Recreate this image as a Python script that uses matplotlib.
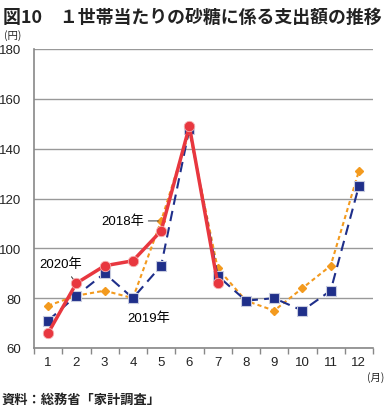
import matplotlib
matplotlib.use('Agg')
import matplotlib.pyplot as plt
import numpy as np

plt.rcParams['font.family'] = ['Liberation Sans', 'Noto Sans CJK JP', 'DejaVu Sans']
jp = ['Noto Sans CJK JP', 'DejaVu Sans']

# data
months = ['1', '2', '3', '4', '5', '6', '7', '8', '9', '10', '11', '12']
y2018 = [77, 81, 83, 80, 111, 147, 92, 79, 75, 84, 93, 131]
y2019 = [71, 81, 90, 80, 93, 148, 89, 79, 80, 75, 83, 125]
y2020 = [66, 86, 93, 95, 107, 149, 86]
yticks = [60, 80, 100, 120, 140, 160, 180]

fig = plt.figure(figsize=(3.86, 4.06), dpi=100)
ax = fig.add_axes([34/386, (406-349)/406, (373-34)/386, (349-50)/406])

x = np.arange(len(months))
ax.plot(x, y2018, color='#f39a1e', lw=1.5, ls=(0, (2, 1.5)), marker='D', markersize=4.5,
        markeredgecolor='#f39a1e', zorder=3)
ax.plot(x, y2019, color='#1f2f8a', lw=1.5, ls=(0, (5, 3)), marker='s', markersize=7.5,
        markeredgecolor='#c8cce0', markeredgewidth=0.8, zorder=4)
ax.plot(x[:len(y2020)], y2020, color='#e8373f', lw=2.5, marker='o', markersize=7.5,
        markeredgecolor='#f5b0b0', markeredgewidth=0.6, zorder=5)

ax.set_xlim(-0.5, 11.5)
ax.set_ylim(60, 180)
ax.set_yticks(yticks)
ax.set_yticklabels([str(v) for v in yticks], fontsize=9.5, color='#222222')
ax.set_xticks(x)
ax.set_xticklabels(months, fontsize=9.5, color='#222222')
ax.set_xticks(np.arange(-0.5, 12, 1), minor=True)
ax.tick_params(axis='x', which='major', length=0, pad=6)
ax.tick_params(axis='x', which='minor', length=4, color='#888888', width=1)
ax.tick_params(axis='y', length=0, pad=9)
ax.grid(axis='y', color='#999999', lw=1)
ax.set_axisbelow(True)
for s in ['top', 'right']:
    ax.spines[s].set_visible(False)
ax.spines['left'].set_color('#888888')
ax.spines['bottom'].set_color('#888888')
ax.spines['left'].set_linewidth(1.2)
ax.spines['bottom'].set_linewidth(1.2)

# labels
ax.annotate('2018年', xy=(4, y2018[4]), xytext=(3.4, y2018[4]), fontsize=9.5,
            va='center', ha='right', arrowprops=dict(arrowstyle='-', color='#333333', lw=0.7,
                                                    shrinkA=1, shrinkB=2))
ax.annotate('2020年', xy=(1, y2020[1]), xytext=(0.46, 94), fontsize=9.5,
            va='center', ha='center', arrowprops=dict(arrowstyle='-', color='#333333', lw=0.7,
                                                     shrinkA=4, shrinkB=3))
ax.annotate('2019年', xy=(3, y2019[3]), xytext=(3.57, 72), fontsize=9.5,
            va='center', ha='center', arrowprops=dict(arrowstyle='-', color='#333333', lw=0.7,
                                                     shrinkA=5, shrinkB=3))

fig.text(0.008, 0.957, '図10　１世帯当たりの砂糖に係る支出額の推移', fontsize=12.9,
         fontweight='bold', color='#222222', va='center', ha='left', family=jp)
fig.text(0.01, 0.913, '(円)', fontsize=7.5, color='#222222', va='center', ha='left', family=jp)
fig.text(0.997, 0.069, '(月)', fontsize=7.5, color='#222222', va='center', ha='right', family=jp)
fig.text(0.003, 0.016, '資料：総務省「家計調査」', fontsize=9.5, fontweight='bold',
         color='#222222', va='center', ha='left', family=jp)

plt.savefig('out.png', dpi=100)
